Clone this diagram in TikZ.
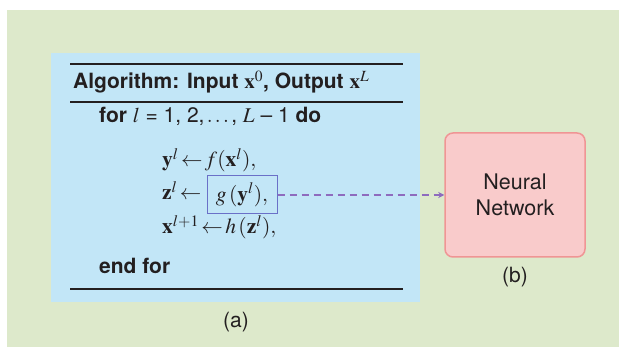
\documentclass[tikz,border=0pt]{standalone}
\usepackage{mathptmx}
\usepackage{fontspec}
\setmainfont{Liberation Serif}
\setsansfont{TeX Gyre Heros}
\usetikzlibrary{arrows.meta}
\definecolor{bggreen}{HTML}{DDE9CB}
\definecolor{bgblue}{HTML}{C2E6F7}
\definecolor{txt}{HTML}{231F20}
\definecolor{boxblue}{HTML}{6A70C8}
\definecolor{arrowpurple}{HTML}{8E6BBE}
\definecolor{nnfill}{HTML}{F9CBCB}
\definecolor{nnborder}{HTML}{F09595}
\newcommand\myla{\mathrel{\mkern-2mu{\leftarrow}\mkern-2mu}}
\tikzset{
  rule/.style={draw=txt, line width=1.2pt},
  txtnode/.style={inner sep=0pt, text=txt, font=\sffamily\fontsize{21}{24}\selectfont},
  mathnode/.style={inner sep=0pt, text=txt, font=\fontsize{21.5}{24}\selectfont},
  capnode/.style={inner sep=0pt, text=txt, font=\sffamily\fontsize{21}{24}\selectfont},
}
\begin{document}
\begin{tikzpicture}[x=1pt,y=-1pt]
\useasboundingbox (0,0) rectangle (619,347);
\fill[white] (0,0) rectangle (619,347);
\fill[bggreen] (7,10) rectangle (619,347);
\fill[bgblue] (51,53) rectangle (420,302);
\draw[rule] (70,64) -- (403,64);
\draw[rule] (70,102) -- (403,102);
\draw[rule] (70,289) -- (403,289);
\node[txtnode, anchor=base west] (title) at (73,89) {\textbf{Algorithm: Input} $\mathbf{x}^{\mathrm{0}}$\textbf{, Output} $\mathbf{x}^L$};
\node[txtnode, anchor=base west] (for) at (99,123) {\textbf{for} $l$ = 1, 2,$\,\ldots\,$, $L$ – 1 \textbf{do}};
\node[mathnode, anchor=base west] (l1) at (162,167) {$\mathbf{y}^l \myla f(\mathbf{x}^l),$};
\node[mathnode, anchor=base west] (l2) at (162,200) {$\mathbf{z}^l \myla$};
\node[mathnode, draw=boxblue, line width=1pt, minimum width=70pt, minimum height=38pt] (g) at (242,195) {$g\,(\mathbf{y}^l),$};
\node[mathnode, anchor=base west] (l3) at (162,234) {$\mathbf{x}^{l+1} \myla h\,(\mathbf{z}^l),$};
\node[txtnode, anchor=base west] (endfor) at (99,274) {\textbf{end for}};
\node[capnode] (a) at (236,322) {(a)};
\node[draw=nnborder, fill=nnfill, line width=1.5pt, rounded corners=8pt, minimum width=140pt, minimum height=124pt, align=center, text=txt, font=\sffamily\fontsize{21.5}{26}\selectfont] (nn) at (515,195) {Neural\\Network};
\node[capnode] (b) at (515,277) {(b)};
\draw[arrowpurple, line width=1.3pt, dash pattern=on 7pt off 5pt, -{Stealth[length=6pt,width=6pt]}] (g.east) -- (nn.west);
\end{tikzpicture}
\end{document}
